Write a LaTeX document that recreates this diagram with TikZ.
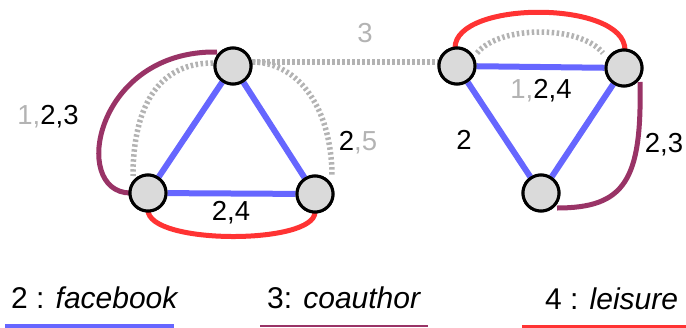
\documentclass[tikz,border=0pt]{standalone}
\usepackage{fontspec}
\setmainfont{Liberation Sans}
\begin{document}
\begin{tikzpicture}[x=1pt,y=-1pt,
  vtx/.style={circle,draw=black,line width=3pt,fill=nodegray,minimum size=36pt,inner sep=0pt},
  fb/.style={draw=fbblue,line width=6pt},
  co/.style={draw=coviolet,line width=5pt},
  le/.style={draw=lered,line width=5pt},
  gr/.style={draw=dotgray,line width=5.5pt,dash pattern=on 2.5pt off 2.5pt},
  lab/.style={font=\fontsize{27.5}{30}\selectfont,inner sep=0pt},
  leg/.style={font=\fontsize{30}{32}\selectfont,inner sep=0pt,anchor=base west}]
\definecolor{nodegray}{HTML}{DADADA}
\definecolor{fbblue}{HTML}{6666FF}
\definecolor{coviolet}{HTML}{993366}
\definecolor{lered}{HTML}{FF3333}
\definecolor{dotgray}{HTML}{B3B3B3}
\definecolor{txtgray}{HTML}{B3B3B3}
\useasboundingbox (0,0) rectangle (686,327);

% gray dotted (behind)
\coordinate (a1) at (213,63);
\coordinate (b1) at (133,176);
\coordinate (a2) at (253,62);
\coordinate (c2) at (332,177);
\coordinate (d1) at (477,53);
\coordinate (e1) at (603,53);
\draw[gr] (a1) .. controls (150,63) and (133,120) .. (b1);
\draw[gr] (a2) .. controls (300,63) and (332,110) .. (c2);
\draw[gr] (d1) .. controls (500,25) and (580,25) .. (e1);
\coordinate (ad1) at (252,62);
\coordinate (ad2) at (438,62);
\draw[gr] (ad1) -- (ad2);

% curved colored edges
\coordinate (pa) at (217,52);
\coordinate (pb) at (130,193);
\draw[co] (pa) .. controls (95,50) and (70,192) .. (pb);
\coordinate (rb) at (148,210);
\coordinate (rc) at (315,212);
\draw[le] (rb) .. controls (148,245) and (315,245) .. (rc);
\coordinate (rd) at (455,48);
\coordinate (re) at (625,50);
\draw[le] (rd) .. controls (455,0) and (625,0) .. (re);
\coordinate (pe) at (640,82);
\coordinate (pf) at (557,208);
\draw[co] (pe) .. controls (642,180) and (625,208) .. (pf);

% nodes
\node[vtx] (A) at (233,66) {};
\node[vtx] (B) at (148,193) {};
\node[vtx] (C) at (315,194) {};
\node[vtx] (D) at (457,66) {};
\node[vtx] (E) at (624,68) {};
\node[vtx] (F) at (541,193) {};

% blue edges
\draw[fb] (A) -- (B);
\draw[fb] (A) -- (C);
\draw[fb] (B) -- (C);
\draw[fb] (D) -- (E);
\draw[fb] (D) -- (F);
\draw[fb] (E) -- (F);

% redraw nodes on top
\node[vtx] at (A) {};
\node[vtx] at (B) {};
\node[vtx] at (C) {};
\node[vtx] at (D) {};
\node[vtx] at (E) {};
\node[vtx] at (F) {};

% labels
\node[lab] (l1) at (48,117) {\textcolor{txtgray}{1,}2,3};
\node[lab] (l2) at (358,143) {2\textcolor{txtgray}{,5}};
\node[lab] (l3) at (231,213) {2,4};
\node[lab,text=txtgray] (l4) at (365,33) {3};
\node[lab] (l5) at (541,91) {\textcolor{txtgray}{1,}2,4};
\node[lab] (l6) at (464,140) {2};
\node[lab] (l7) at (664,145) {2,3};

% legend
\node[leg] (g1) at (11,308) {2 : \textit{facebook}};
\node[leg] (g2) at (267,308) {3: \textit{coauthor}};
\node[leg] (g3) at (545,309) {4 : \textit{leisure}};
\coordinate (g1a) at (5,325.5);
\coordinate (g1b) at (174,325.5);
\coordinate (g2a) at (260,326);
\coordinate (g2b) at (428,326);
\coordinate (g3a) at (522,326);
\coordinate (g3b) at (686,326);
\draw[draw=fbblue,line width=4pt] (g1a) -- (g1b);
\draw[draw=coviolet,line width=2pt] (g2a) -- (g2b);
\draw[draw=lered,line width=3pt] (g3a) -- (g3b);
\end{tikzpicture}
\end{document}
